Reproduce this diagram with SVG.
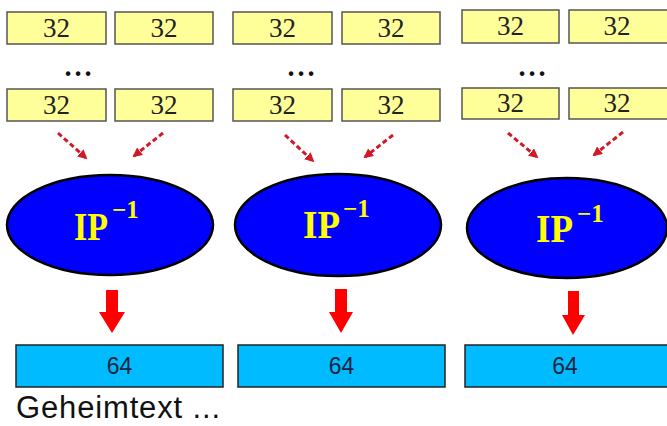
<svg xmlns="http://www.w3.org/2000/svg" width="667" height="426" viewBox="0 0 667 426">
<style>
.y{fill:#ffff99;stroke:#555;stroke-width:1.5}
.t32{font-family:"Liberation Serif",serif;font-size:27px;fill:#222;text-anchor:middle}
.dots{font-family:"Liberation Sans",sans-serif;font-size:16px;font-weight:bold;fill:#111;text-anchor:middle}
.el{fill:#0000ff;stroke:#000;stroke-width:2.5}
.ip{font-family:"Liberation Serif",serif;font-weight:bold;fill:#ffff00}
.b{fill:#00bbff;stroke:#222;stroke-width:1.5}
.t64{font-family:"Liberation Sans",Arial,sans-serif;font-size:23px;fill:#1a2640;text-anchor:middle}
.d{stroke:#d01a28;stroke-width:3;stroke-dasharray:5 3;fill:none;marker-end:url(#ah)}
.ra{fill:#ff0000}
</style>
<defs>
<marker id="ah" viewBox="0 0 10 10" refX="8" refY="5" markerWidth="3.2" markerHeight="3.2" orient="auto" markerUnits="strokeWidth">
<path d="M0,0 L10,5 L0,10 z" fill="#d01a28"/>
</marker>
</defs>
<rect width="667" height="426" fill="#fff"/>
<g id="col1">
<g id="c1a"><rect class="y" x="7" y="12" width="99" height="32"/><text class="t32" x="56.5" y="37">32</text></g>
<g id="c1b"><rect class="y" x="115" y="12" width="98" height="32"/><text class="t32" x="164" y="37">32</text></g>
<text class="dots" x="78" y="79">• • •</text>
<g id="c1c"><rect class="y" x="7" y="89" width="99" height="32"/><text class="t32" x="56.5" y="114">32</text></g>
<g id="c1d"><rect class="y" x="115" y="89" width="98" height="32"/><text class="t32" x="164" y="114">32</text></g>
<g id="ip1"><ellipse class="el" cx="110" cy="225" rx="103" ry="50"/>
<text class="ip" x="74" y="240" font-size="40" textLength="34" lengthAdjust="spacingAndGlyphs">IP</text>
<text class="ip" x="112" y="218" font-size="25">−1</text></g>
<g id="o1"><rect class="b" x="16" y="345" width="207" height="42"/><text class="t64" x="119.5" y="374">64</text></g>
</g>
<g id="col2">
<g id="c2a"><rect class="y" x="233" y="12" width="99" height="32"/><text class="t32" x="282.5" y="37">32</text></g>
<g id="c2b"><rect class="y" x="342" y="12" width="98" height="32"/><text class="t32" x="391" y="37">32</text></g>
<text class="dots" x="301" y="79">• • •</text>
<g id="c2c"><rect class="y" x="233" y="89" width="99" height="32"/><text class="t32" x="282.5" y="114">32</text></g>
<g id="c2d"><rect class="y" x="342" y="89" width="98" height="32"/><text class="t32" x="391" y="114">32</text></g>
<g id="ip2"><ellipse class="el" cx="338" cy="225" rx="103" ry="51"/>
<text class="ip" x="303" y="238" font-size="40" textLength="37" lengthAdjust="spacingAndGlyphs">IP</text>
<text class="ip" x="343" y="217" font-size="25">−1</text></g>
<g id="o2"><rect class="b" x="238" y="345" width="207" height="42"/><text class="t64" x="341.5" y="374">64</text></g>
</g>
<g id="col3">
<g id="c3a"><rect class="y" x="462" y="10" width="97" height="33"/><text class="t32" x="510.5" y="35">32</text></g>
<g id="c3b"><rect class="y" x="569" y="10" width="100" height="33"/><text class="t32" x="617" y="35">32</text></g>
<text class="dots" x="532" y="79">• • •</text>
<g id="c3c"><rect class="y" x="462" y="88" width="97" height="31"/><text class="t32" x="510.5" y="112">32</text></g>
<g id="c3d"><rect class="y" x="569" y="88" width="100" height="31"/><text class="t32" x="617" y="112">32</text></g>
<g id="ip3"><ellipse class="el" cx="567" cy="228" rx="100" ry="50"/>
<text class="ip" x="536" y="242" font-size="40" textLength="37" lengthAdjust="spacingAndGlyphs">IP</text>
<text class="ip" x="577" y="222" font-size="25">−1</text></g>
<g id="o3"><rect class="b" x="465" y="345" width="204" height="42"/><text class="t64" x="565" y="374">64</text></g>
</g>
<g id="connectors">
<path class="d" d="M58,133 L86,158"/>
<path class="d" d="M163,133 L134,156"/>
<path class="d" d="M285,135 L313,161"/>
<path class="d" d="M393,135 L365,157"/>
<path class="d" d="M508,133 L537,157"/>
<path class="d" d="M623,132 L594,155"/>
<polygon class="ra" points="106,290 118,290 118,312 125,312 112,333 99,312 106,312"/>
<polygon class="ra" points="335,289 347,289 347,312 353,312 341,333 329,312 335,312"/>
<polygon class="ra" points="568,291 579,291 579,315 585,315 573,335 562,315 568,315"/>
</g>
<text x="16" y="418" font-family="Liberation Sans,Arial,sans-serif" font-size="31" fill="#111" textLength="204" lengthAdjust="spacing">Geheimtext ...</text>
</svg>
